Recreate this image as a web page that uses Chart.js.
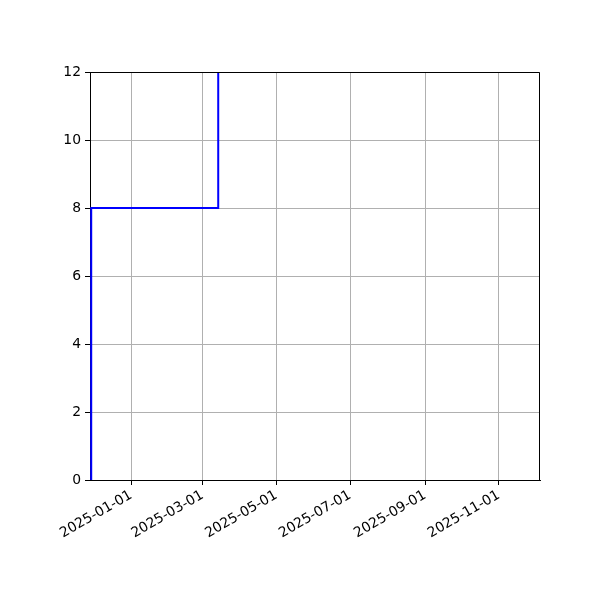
<!DOCTYPE html>
<html>
<head>
<meta charset="utf-8">
<script src="https://cdn.jsdelivr.net/npm/chart.js@4"></script>
<style>
  html, body { margin: 0; padding: 0; background: #fff; }
  #wrap { width: 600px; height: 600px; }
</style>
</head>
<body>
<div id="wrap"><canvas id="c" width="600" height="600"></canvas></div>
<script>
// step data
const dates = ['2024-11-29', '2024-11-29', '2025-03-14', '2025-03-14'];
const counts = [0, 8, 8, 16];
const tickDates = ['2025-01-01', '2025-03-01', '2025-05-01', '2025-07-01', '2025-09-01', '2025-11-01'];
const yTicks = [0, 2, 4, 6, 8, 10, 12];
const xRange = ['2024-11-28', '2025-12-05'];

const ms = s => Date.parse(s + 'T00:00:00Z');
const fmt = v => new Date(v).toISOString().slice(0, 10);

// top/right spines
const frame = {
  id: 'frame',
  afterDatasetsDraw(chart) {
    const a = chart.chartArea, ctx = chart.ctx;
    ctx.save();
    ctx.strokeStyle = '#000';
    ctx.lineWidth = 1;
    ctx.beginPath();
    ctx.moveTo(a.left, a.top + 0.5);
    ctx.lineTo(a.right - 0.5, a.top + 0.5);
    ctx.lineTo(a.right - 0.5, a.bottom);
    ctx.stroke();
    ctx.restore();
  }
};

Chart.defaults.font.family = '"DejaVu Sans", sans-serif';
Chart.defaults.font.size = 13.9;
Chart.defaults.color = '#000';

new Chart(document.getElementById('c'), {
  type: 'line',
  data: {
    datasets: [{
      data: dates.map((d, i) => ({ x: ms(d), y: counts[i] })),
      borderColor: '#0000ff',
      borderWidth: 2,
      pointRadius: 0,
      tension: 0,
      fill: false
    }]
  },
  options: {
    responsive: false,
    animation: false,
    layout: { padding: { top: 72, right: 60, left: 0, bottom: 0 } },
    plugins: { legend: { display: false }, tooltip: { enabled: false } },
    scales: {
      x: {
        type: 'linear',
        min: ms(xRange[0]),
        max: ms(xRange[1]),
        afterBuildTicks: s => { s.ticks = tickDates.map(d => ({ value: ms(d) })); },
        afterFit: s => { s.height = 120; },
        grid: { color: '#b0b0b0', lineWidth: 1, tickColor: '#000', tickLength: 5 },
        border: { color: '#000', width: 1 },
        ticks: { callback: v => fmt(v), minRotation: 30, maxRotation: 30, padding: 2, autoSkip: false }
      },
      y: {
        min: 0,
        max: 12,
        afterBuildTicks: s => { s.ticks = yTicks.map(v => ({ value: v })); },
        afterFit: s => { s.width = 90; },
        grid: { color: '#b0b0b0', lineWidth: 1, tickColor: '#000', tickLength: 5 },
        border: { color: '#000', width: 1 },
        ticks: { padding: 4 }
      }
    }
  },
  plugins: [frame]
});
</script>
</body>
</html>
